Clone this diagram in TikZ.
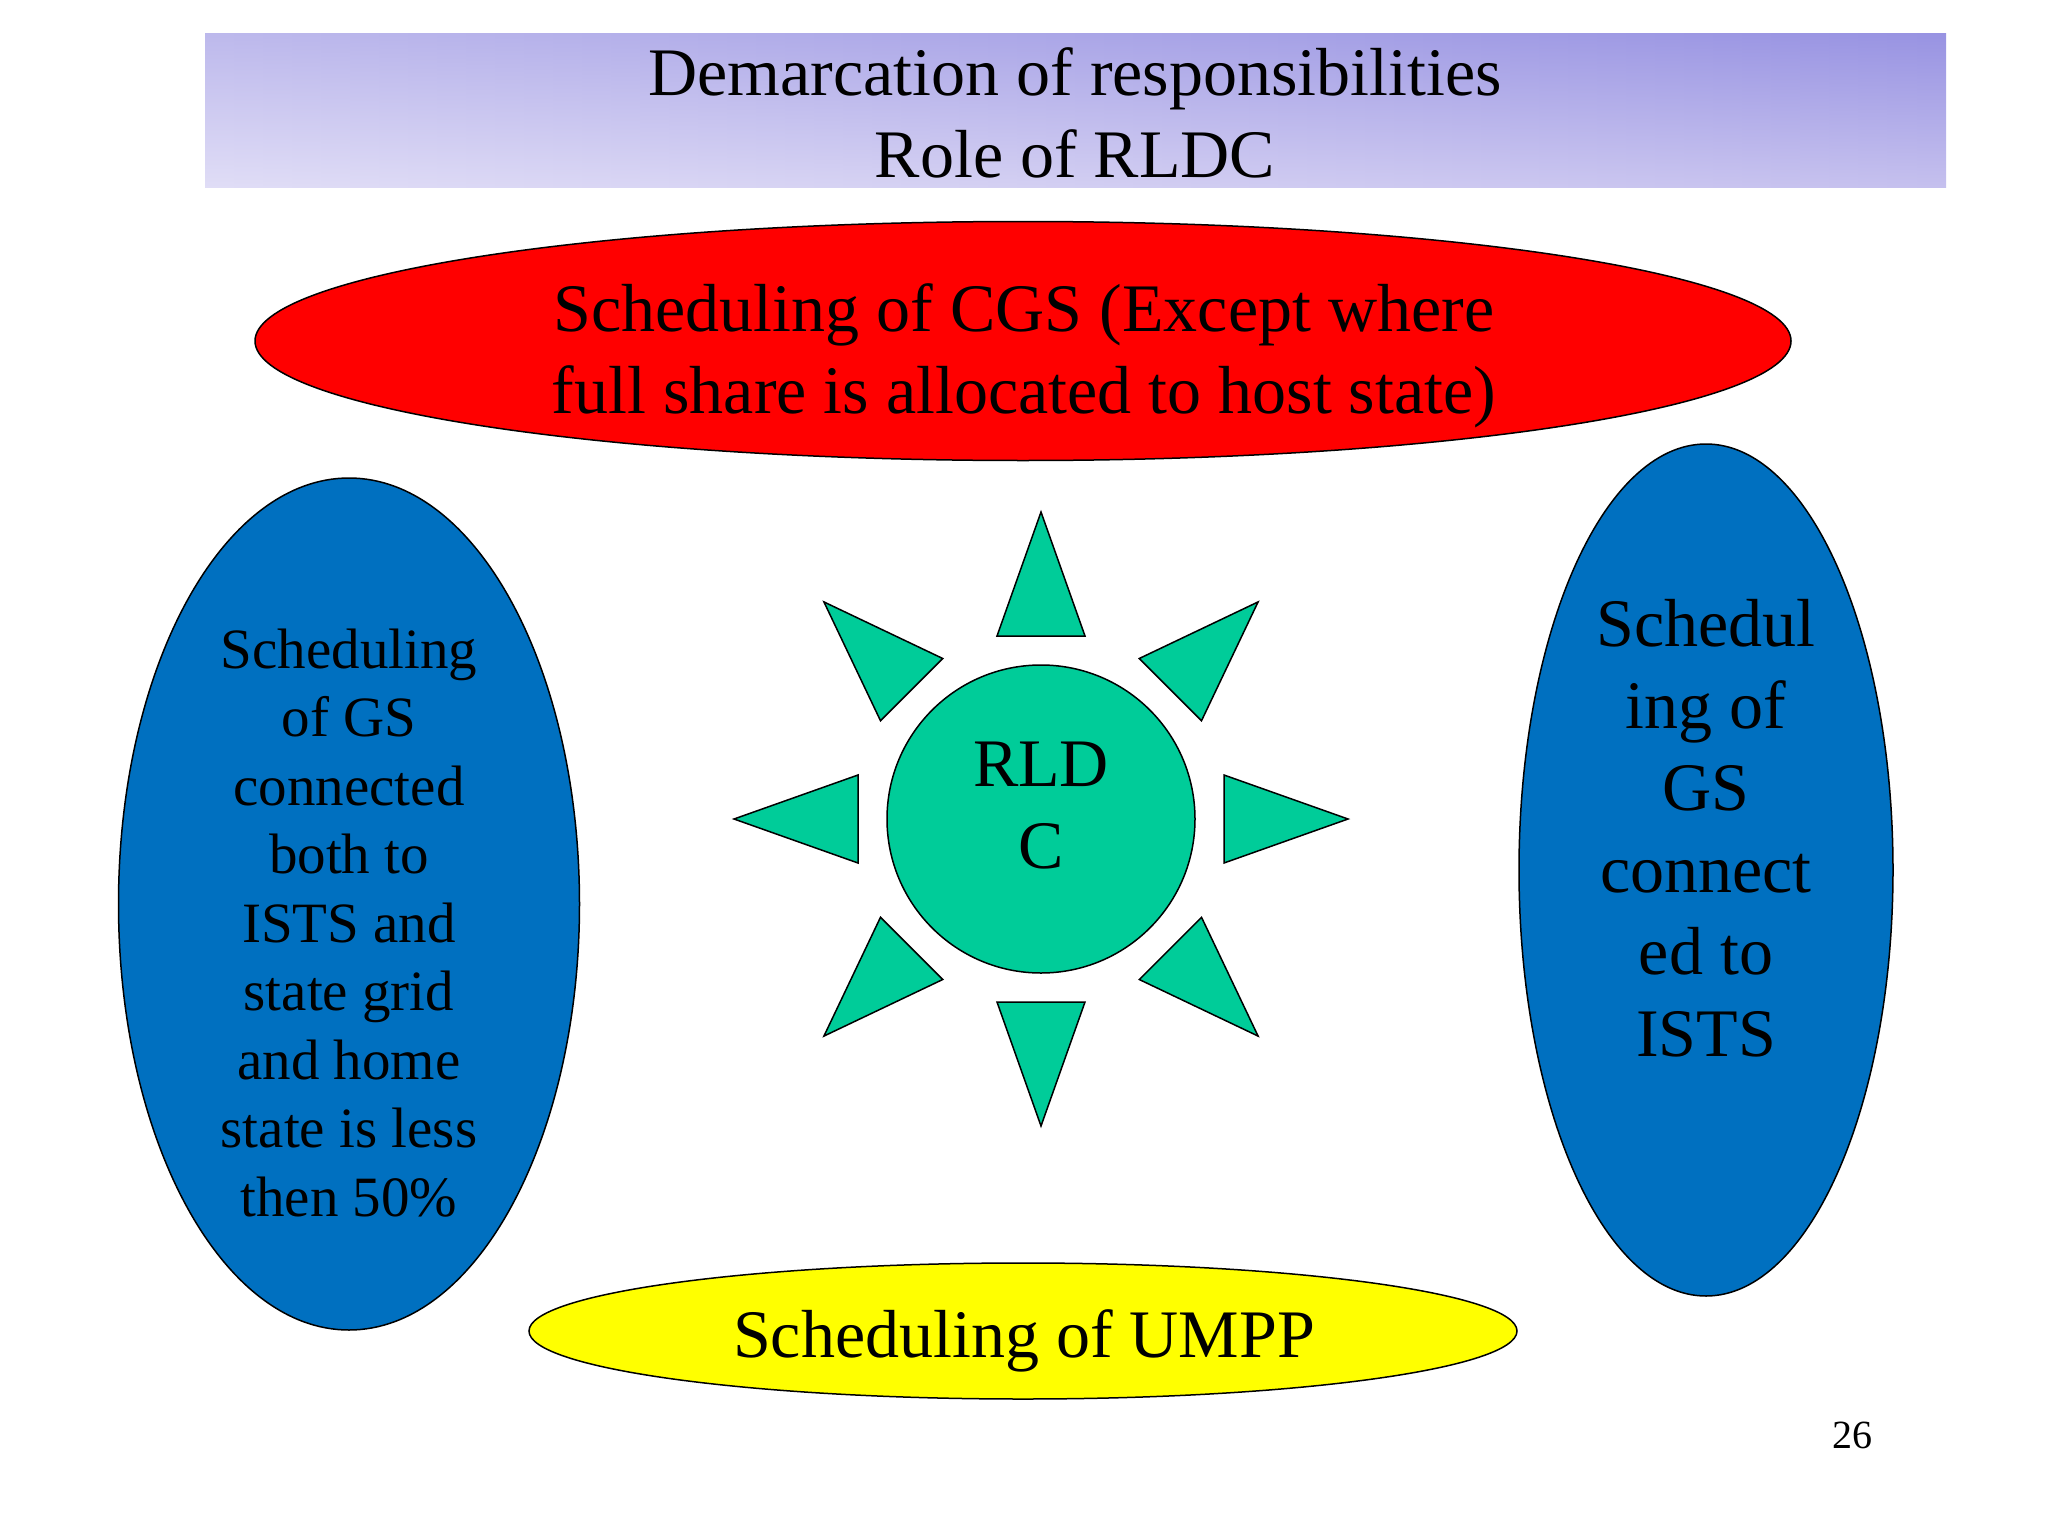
\documentclass[tikz,border=0pt]{standalone}
\usepackage{fontspec}
\setmainfont{Liberation Serif}
\usetikzlibrary{shapes.geometric,calc}
\definecolor{cred}{RGB}{255,0,0}
\definecolor{cblue}{RGB}{0,112,192}
\definecolor{cgreen}{RGB}{0,204,153}
\definecolor{cyellow}{RGB}{255,255,0}
\definecolor{bTL}{RGB}{189,185,236}
\definecolor{bBL}{RGB}{224,221,246}
\definecolor{bTR}{RGB}{152,147,226}
\definecolor{bBR}{RGB}{197,192,238}
\tikzset{
  shapeline/.style={draw=black,line width=1.5pt},
  oval/.style={shapeline,ellipse,inner sep=0pt},
  ray/.style={shapeline,fill=cgreen,line join=miter},
  bigtext/.style={font=\fontsize{68}{82}\selectfont,align=center,inner sep=0pt},
  smalltext/.style={font=\fontsize{57}{68.5}\selectfont,align=center,inner sep=0pt},
}
\begin{document}
\begin{tikzpicture}[x=1pt,y=-1pt]
\useasboundingbox (0,0) rectangle (2048,1536);
\fill[white] (0,0) rectangle (2048,1536);
% title banner (bilinear gradient built from strips)
\begin{scope}
\clip (205,34) rectangle (1946,187);
\foreach \i in {0,...,59}{
  \pgfmathsetmacro{\xa}{205+\i*29.0167}
  \pgfmathsetmacro{\xb}{\xa+30.5}
  \pgfmathsetmacro{\p}{(\i+0.5)*1.6667}
  \colorlet{stripT}{bTR!\p!bTL}
  \colorlet{stripB}{bBR!\p!bBL}
  \shade[top color=stripT,bottom color=stripB] (\xa,34) rectangle (\xb,187);
}
\end{scope}
\node[bigtext] (title) at (1075,113) {Demarcation of responsibilities\\Role of RLDC};
% red ellipse
\node[oval,fill=cred,minimum width=1536,minimum height=239] (cgs) at (1023,341) {};
\node[bigtext] (cgstext) at (1024,356) {Scheduling of CGS (Except where\\full share is allocated to host state)};
% left blue ellipse
\node[oval,fill=cblue,minimum width=461,minimum height=852] (left) at (349,904) {};
\node[smalltext] (lefttext) at (349,923) {Scheduling\\of GS\\connected\\both to\\ISTS and\\state grid\\and home\\state is less\\then 50\%};
% right blue ellipse
\node[oval,fill=cblue,minimum width=374,minimum height=852] (right) at (1706,870) {};
\node[bigtext] (righttext) at (1706,828) {Schedul\\ing of\\GS\\connect\\ed to\\ISTS};
% yellow ellipse
\node[oval,fill=cyellow,minimum width=988,minimum height=136] (umpp) at (1023,1331) {};
\node[bigtext] (umpptext) at (1024,1341) {Scheduling of UMPP};
% sun
\node[shapeline,circle,fill=cgreen,minimum size=308,inner sep=0pt] (sun) at (1041,819) {};
\node[bigtext] (suntext) at (1041,806) {RLD\\C};
\foreach \a in {0,45,...,315}{
  \draw[ray] ($(sun.center)+(\a:307)$) -- ($(sun.center)+(\a:183)+(\a+90:44)$) -- ($(sun.center)+(\a:183)+(\a-90:44)$) -- cycle;
}
% page number
\node[font=\fontsize{40}{48}\selectfont,inner sep=0pt] (pagenum) at (1852,1435) {26};
\end{tikzpicture}
\end{document}
